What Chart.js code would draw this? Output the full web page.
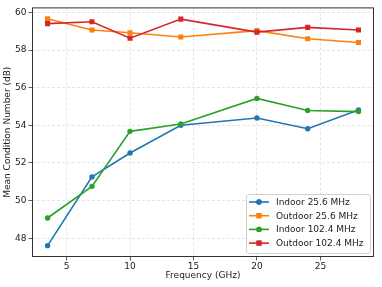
<!DOCTYPE html>
<html>
<head>
<meta charset="utf-8">
<script src="https://cdn.jsdelivr.net/npm/chart.js@4.4.1/dist/chart.umd.min.js"></script>
<style>
  html,body{margin:0;padding:0;background:#fff;}
  #wrap{width:382px;height:287px;}
</style>
</head>
<body>
<div id="wrap"><canvas id="c" width="382" height="287"></canvas></div>
<script>
// Mean condition number vs frequency
const freqs      = [3.5, 7, 10, 14, 20, 24, 28];
const indoor25   = [47.61, 51.26, 52.53, 54.00, 54.39, 53.82, 54.81];
const outdoor25  = [59.66, 59.06, 58.92, 58.69, 59.03, 58.60, 58.40];
const indoor102  = [49.08, 50.76, 53.68, 54.07, 55.43, 54.79, 54.73];
const outdoor102 = [59.40, 59.50, 58.63, 59.64, 58.95, 59.20, 59.06];

const xTicks = [5, 10, 15, 20, 25];
const yTicks = [48, 50, 52, 54, 56, 58, 60];

const FONT = "'DejaVu Sans', sans-serif";
const FS = 9;
const series = [
  {label:"Indoor 25.6 MHz",   data:indoor25,   color:"#1f77b4", marker:"circle"},
  {label:"Outdoor 25.6 MHz",  data:outdoor25,  color:"#ff7f0e", marker:"rect"},
  {label:"Indoor 102.4 MHz",  data:indoor102,  color:"#2ca02c", marker:"circle"},
  {label:"Outdoor 102.4 MHz", data:outdoor102, color:"#d62728", marker:"rect"},
];

// matplotlib-like 5% autoscale margins
function padRange(vals){
  const lo=Math.min(...vals), hi=Math.max(...vals), m=(hi-lo)*0.05;
  return [lo-m, hi+m];
}
const [xMin,xMax] = padRange(freqs);
const [yMin,yMax] = padRange(series.flatMap(s=>s.data));

function mSize(m){ return m==="rect" ? 3.6 : 2.7; }

const datasets = series.map((s,i)=>({
  label:s.label,
  data:freqs.map((f,j)=>({x:f, y:s.data[j]})),
  borderColor:s.color, backgroundColor:s.color,
  borderWidth:1.6,
  pointStyle:s.marker, pointRadius:mSize(s.marker), pointBorderWidth:0,
  pointBackgroundColor:s.color,
  order:series.length-i,
  tension:0
}));

// full frame around plot + legend box in lower right
const framePlugin = {
  id:"frame",
  afterDraw(chart){
    const {ctx, chartArea:a} = chart;
    ctx.save();
    ctx.strokeStyle="#333"; ctx.lineWidth=1;
    ctx.strokeRect(a.left+0.5, a.top+0.5, a.right-a.left-1, a.bottom-a.top-1);

    // legend
    const bw=124, bh=59, bx=a.right-4-bw, by=a.bottom-4-bh;
    ctx.fillStyle="rgba(255,255,255,0.85)";
    ctx.strokeStyle="#d0d0d0";
    ctx.beginPath();
    ctx.roundRect(bx+0.5, by+0.5, bw, bh, 3);
    ctx.fill(); ctx.stroke();
    ctx.font=`${FS}px ${FONT}`;
    ctx.textBaseline="middle"; ctx.textAlign="left";
    series.forEach((s,i)=>{
      const y=by+8+i*13.7;
      ctx.strokeStyle=s.color; ctx.lineWidth=1.6;
      ctx.beginPath(); ctx.moveTo(bx+3,y); ctx.lineTo(bx+23,y); ctx.stroke();
      ctx.fillStyle=s.color;
      Chart.helpers.drawPoint(ctx,{pointStyle:s.marker, radius:mSize(s.marker), borderWidth:0}, bx+13, y);
      ctx.fill();
      ctx.fillStyle="#222";
      ctx.fillText(s.label, bx+30, y+0.5);
    });
    ctx.restore();
  }
};

const gridOpts = {color:"rgba(0,0,0,0.13)", lineWidth:0.8, tickLength:3.5, tickColor:"#333", tickWidth:0.8};

new Chart(document.getElementById("c"), {
  type:"line",
  data:{datasets},
  plugins:[framePlugin],
  options:{
    responsive:false,
    animation:false,
    layout:{padding:{left:0, top:7, right:8, bottom:0}},
    plugins:{legend:{display:false}, tooltip:{enabled:false}},
    scales:{
      x:{
        type:"linear", min:xMin, max:xMax,
        afterBuildTicks:s=>{ s.ticks=xTicks.map(v=>({value:v})); },
        afterFit:s=>{ s.height=30; },
        grid:gridOpts,
        border:{display:false, dash:[3,2]},
        ticks:{color:"#222", font:{family:FONT, size:FS}, padding:1, maxRotation:0},
        title:{display:true, text:"Frequency (GHz)", color:"#222", font:{family:FONT, size:FS}, padding:{top:0,bottom:6}}
      },
      y:{
        type:"linear", min:yMin, max:yMax,
        afterBuildTicks:s=>{ s.ticks=yTicks.map(v=>({value:v})); },
        afterFit:s=>{ s.width=32; },
        grid:gridOpts,
        border:{display:false, dash:[3,2]},
        ticks:{color:"#222", font:{family:FONT, size:FS}, padding:2},
        title:{display:true, text:"Mean Condition Number (dB)", color:"#222", font:{family:FONT, size:FS}, padding:{top:2,bottom:0}}
      }
    }
  }
});
</script>
</body>
</html>
